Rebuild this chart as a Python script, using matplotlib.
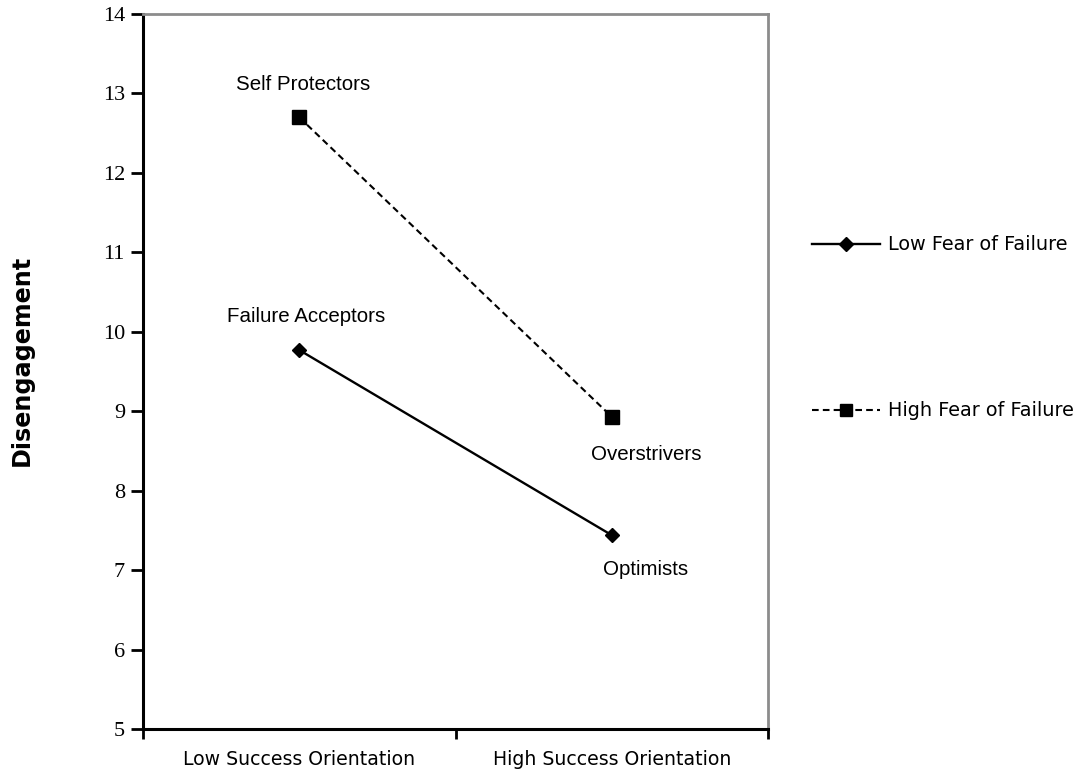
import matplotlib
matplotlib.use("Agg")
import matplotlib.pyplot as plt
from matplotlib.lines import Line2D

categories = ["Low Success Orientation", "High Success Orientation"]
series_names = ["Low Fear of Failure", "High Fear of Failure"]
low_fear = [9.77, 7.44]
high_fear = [12.70, 8.93]
point_labels = ["Failure Acceptors", "Optimists", "Self Protectors", "Overstrivers"]
yticks = [5, 6, 7, 8, 9, 10, 11, 12, 13, 14]

fig = plt.figure(figsize=(10.79, 7.72), dpi=100)
ax = fig.add_axes([143/1079, 1-729/772, (768-143)/1079, (729-14)/772])

xs = [0.5, 1.5]
ax.plot(xs, low_fear, color="black", lw=1.7, marker="D", ms=7, markerfacecolor="black", zorder=3)
ax.plot(xs, high_fear, color="black", lw=1.5, ls=(0, (3.2, 2)), marker="s", ms=10, markerfacecolor="black", zorder=3)

ax.set_xlim(0, 2)
ax.set_ylim(5, 14)
ax.set_yticks(yticks)
ax.set_yticklabels([str(v) for v in yticks], fontfamily="Liberation Serif", fontsize=16)
ax.set_xticks([0, 1, 2])
ax.set_xticklabels([])
ax.set_xticks(xs, minor=True)
ax.set_xticklabels(categories, minor=True, fontfamily="DejaVu Sans", fontsize=13.6)
ax.tick_params(axis="x", which="minor", length=0, pad=15)
ax.tick_params(axis="x", which="major", length=7, width=2, direction="out")
ax.tick_params(axis="y", length=9, width=2, direction="out", pad=4)

for s in ["left", "bottom"]:
    ax.spines[s].set_linewidth(2.2)
    ax.spines[s].set_color("black")
for s in ["top", "right"]:
    ax.spines[s].set_linewidth(2)
    ax.spines[s].set_color("#8c8c8c")

# point labels
lab_font = dict(fontfamily="Liberation Sans", fontsize=14.8, ha="center", va="center")
ax.annotate(point_labels[0], (xs[0], low_fear[0]), xytext=(5, 24), textcoords="offset points", **lab_font)
ax.annotate(point_labels[1], (xs[1], low_fear[1]), xytext=(24, -25), textcoords="offset points", **lab_font)
ax.annotate(point_labels[2], (xs[0], high_fear[0]), xytext=(3, 23.5), textcoords="offset points", **lab_font)
ax.annotate(point_labels[3], (xs[1], high_fear[1]), xytext=(25, -27), textcoords="offset points", **lab_font)

fig.text(22/1079, 1-360/772, "Disengagement", rotation=90, ha="center", va="center",
         fontfamily="DejaVu Sans", fontweight="bold", fontsize=17.2)

# legend drawn manually
leg_y = [244, 410]
styles = [dict(ls="-", lw=1.7, marker="D", ms=7), dict(ls=(0, (3.2, 2)), lw=1.5, marker="s", ms=9)]
for name, yy, st in zip(series_names, leg_y, styles):
    yf = 1 - yy/772
    fig.add_artist(Line2D([812/1079, 880/1079], [yf, yf], color="black", ls=st["ls"], lw=st["lw"],
                          transform=fig.transFigure))
    fig.add_artist(Line2D([846/1079], [yf], color="black", marker=st["marker"], ms=st["ms"],
                          markerfacecolor="black", transform=fig.transFigure))
    fig.text(888/1079, yf, name, ha="left", va="center", fontfamily="DejaVu Sans", fontsize=13.9)

fig.savefig("out.png", dpi=100)
